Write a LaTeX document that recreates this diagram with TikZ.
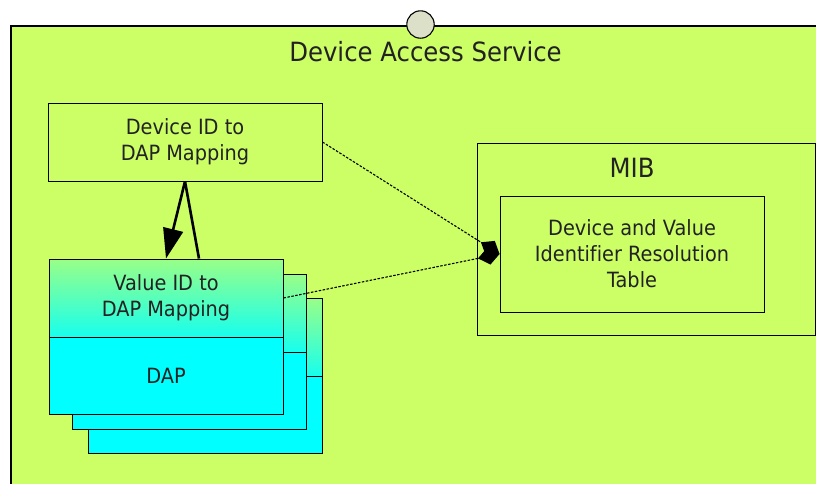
\documentclass[tikz,border=0pt]{standalone}
\usepackage{fontspec}
\setmainfont{DejaVu Sans}[FakeStretch=0.92,Ligatures=NoCommon]
\usetikzlibrary{arrows.meta,calc}
\definecolor{bggreen}{HTML}{CCFF66}
\definecolor{knob}{HTML}{DCE0C8}
\definecolor{txt}{HTML}{222222}
\definecolor{topgreen}{HTML}{99FF88}
\definecolor{dapcyan}{HTML}{00FFFF}
\tikzset{
  box/.style={draw=black, line width=0.9pt, rectangle, inner sep=0pt, text=txt, align=center, font=\fontsize{21}{26}\selectfont},
  vtopbox/.style={box, top color=topgreen, bottom color=dapcyan!85!topgreen, minimum width=234pt, minimum height=78pt},
  dapbox/.style={box, fill=dapcyan, minimum width=234pt, minimum height=77pt},
  bigtext/.style={text=txt, font=\fontsize{26.5}{30}\selectfont, inner sep=0pt},
  thick arrow/.style={line width=2.6pt, -{Triangle[length=30pt,width=20pt]}},
  thick line/.style={line width=2.6pt},
  dash link/.style={line width=1.1pt, dash pattern=on 2.5pt off 1.5pt, -{Diamond[length=22pt,width=17pt]}}
}
\begin{document}
\begin{tikzpicture}[x=1pt,y=-1pt]
\useasboundingbox (0,0) rectangle (816,483);
% outer service area
\fill[bggreen] (11,26) rectangle (830,500);
\draw[line width=1.2pt] (830,26) -- (11,26) -- (11,500);
\node[circle, draw=black, line width=1.1pt, fill=knob, minimum size=27.4pt, inner sep=0pt] (knob) at (420.5,24.5) {};
\node[bigtext] (title) at (425.5,52) {Device Access Service};
% device id box
\node[box, minimum width=274pt, minimum height=78pt] (devid) at (185,142) {Device ID to\\DAP Mapping};
% MIB
\node[box, minimum width=338pt, minimum height=192pt] (mib) at (646,239) {};
\node[bigtext] (miblabel) at (632,168) {MIB};
\node[box, minimum width=264pt, minimum height=116pt] (table) at (632,254) {Device and Value\\Identifier Resolution\\Table};
% stack (back to front)
\node[vtopbox] (vtop3) at (205.5,337) {};
\node[dapbox] (dap3) at (205.5,414.5) {};
\node[vtopbox] (vtop2) at (189.5,313) {};
\node[dapbox] (dap2) at (189.5,390.5) {};
\node[vtopbox] (vtop) at (166,298) {Value ID to\\DAP Mapping};
\node[dapbox] (dap) at (166,375.5) {DAP};
% connectors
\draw[thick line] ($(vtop.north)+(33,0)$) -- (devid.south);
\draw[thick arrow] (devid.south) -- (vtop.north);
\draw[dash link] (devid.east) -- (table.west);
\draw[dash link] (vtop.east) -- (table.west);
\end{tikzpicture}
\end{document}
